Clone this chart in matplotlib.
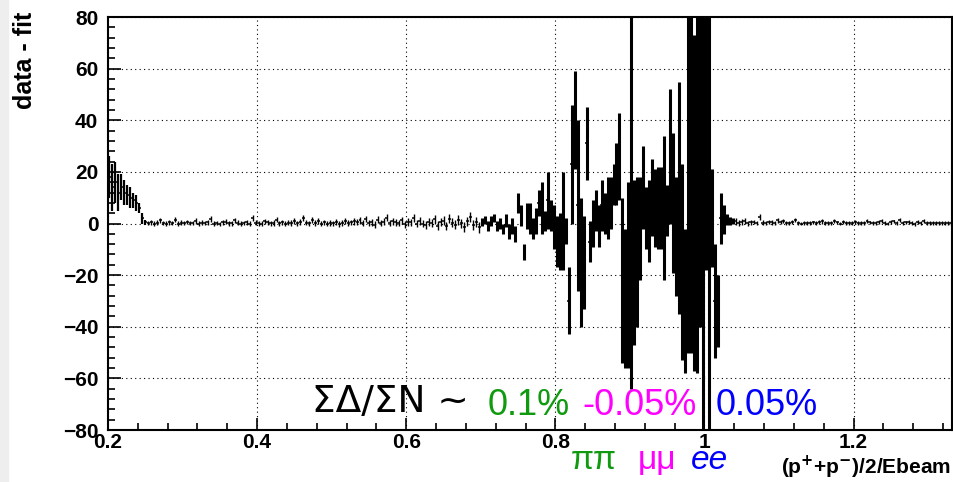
import numpy as np
import matplotlib.pyplot as plt
from matplotlib.ticker import MultipleLocator
from matplotlib.patches import Rectangle

plt.rcParams['font.family'] = ['Liberation Sans', 'DejaVu Sans']

# histogram binning: 0.2 .. 1.332 in 0.004 steps
x_start = 0.2
bin_width = 0.004

# residuals (data - fit) and their errors
low_vals = [18, 14, 16, 12, 14, 12, 11, 10, 9, 8, 6, 2, 0.5]
low_errs = [8, 9, 8, 7, 5, 5, 4, 4, 3, 3, 2, 2, 1]

flat1_vals = [0.2, 0.5, 0.0, 0.3, 1.2, 0.1, 0.0, 0.4, 0.2, 1.5, 0.0, 0.3, 0.1, 0.6, 0.2, 0.1, 1.0, 0.0, 0.3, 0.1,
              0.4, 1.8, 0.0, 0.2, -0.2, 0.4, 0.7, 0.1, 0.1, 1.3, 0.3, 0.0, 0.2, 0.5, 0.0, 2.0, 0.3, 0.1, -0.1, 0.8,
              0.4, 0.1, 0.2, 1.5, 0.1, 0.5, -0.1, 0.3, 0.2, 1.1, 0.1, 0.6, 2.1, 0.3, 0.1, 1.3, 0.2, 0.9, 0.0, 0.4,
              -0.1, 0.2, 0.1, 0.6, -0.2, 0.3, 1.0, 0.1, 0.4, 0.8, 0.5, 1.2, 0.2, 1.7, 0.1, 0.4, -0.4, 1.5, 0.3, 0.7,
              2.3, 0.1, 0.9, 0.4, 0.2, 1.3, -0.3, 0.6, 0.4, 2.0, 0.0, 1.0, -0.1, -0.6, 0.7, 0.3, 1.6, -0.8, 0.5, 1.1,
              -1.0, 1.9, 0.3, -0.5, 1.3, 0.1, -1.2, 0.8, 2.4, -0.7, 0.5, -1.5]
flat1_errs = [0.9, 0.9, 0.8, 0.9, 1.0, 0.8, 0.9, 0.9, 0.8, 1.0, 0.9, 0.9, 0.8, 0.9, 0.9, 0.8, 1.0, 0.9, 0.9, 0.8,
              0.9, 1.1, 0.9, 0.9, 0.9, 0.9, 1.0, 0.9, 0.9, 1.0, 0.9, 0.9, 0.9, 1.0, 0.9, 1.1, 0.9, 0.9, 0.9, 1.0,
              1.0, 0.9, 1.0, 1.1, 0.9, 1.0, 0.9, 1.0, 1.0, 1.1, 1.0, 1.0, 1.2, 1.0, 1.0, 1.1, 1.0, 1.1, 1.0, 1.0,
              1.0, 1.0, 1.0, 1.1, 1.0, 1.1, 1.1, 1.1, 1.1, 1.2, 1.1, 1.2, 1.1, 1.3, 1.1, 1.2, 1.2, 1.3, 1.2, 1.3,
              1.4, 1.2, 1.3, 1.3, 1.3, 1.4, 1.3, 1.4, 1.4, 1.5, 1.4, 1.5, 1.4, 1.5, 1.5, 1.5, 1.6, 1.6, 1.6, 1.7,
              1.7, 1.8, 1.7, 1.8, 1.8, 1.8, 1.9, 1.9, 2.0, 1.9, 2.0, 2.1]

peak_vals = [0.5, 1.5, -1, 1, 2, -1, 0, -2, 1, -3, -1, -4, 8, 3, -11, 3, 2, -2, 1, 8,
             6, 1, 9, 3, -1.5, -7, -7, 1, -3, -30, 23, 40, 7, -15, -15, 31, -7, 0, 5, -1,
             7, 4, 6, 8, 15, 19, 26, -22, -29, -20, 8, -15, -11, -2, 14, 2, 1, 10, 6, 6,
             6, 6, 5, 26, 8, -5, 10, -15, -30, 20, 20, 8, 20, 30, 0, 40, 0, 2, -30, -34,
             2, 1.5, 1.5, 1, 1]
peak_errs = [1.5, 1.5, 2, 2, 1.5, 2, 2, 2, 2.5, 3, 3, 3, 4, 4, 3, 5, 6, 4, 5, 5,
             10, 4, 11, 6, 8.5, 10, 11, 19, 5, 13, 23, 19, 33, 25, 18, 14, 8, 9, 8, 8,
             10, 8, 12, 10, 8, 12, 17, 32, 27, 36, 72, 32, 29, 20, 16, 12, 16, 15, 15, 16,
             16, 28, 10, 26, 27, 23, 45, 38, 28, 70, 70, 65, 78, 70, 100, 58, 100, 19, 22, 14,
             10, 5.5, 2, 1.5, 1.2]

flat2_vals = [0.8, 0.2, 0.5, 1.0, 0.1, 0.4, 0.6, 0.2, 2.5, 0.3, 0.1, 0.7, 0.4, 0.2, 1.2, 0.5, 0.9, 0.1, 0.3, 0.6,
              1.4, 0.2, 0.0, 0.3, 0.1, 0.2, 0.4, 0.1, 0.6, 0.8, 0.3, 0.1, 0.2, 1.0, 0.4, 0.0, 0.5, 0.2, 0.3, 0.1,
              0.6, 0.2, 0.3, 0.1, 0.9, 0.4, 0.2, 0.1, 0.5, 1.1, 0.3, 0.0, 0.6, 0.8, 0.2, 1.5, 0.1, 0.4, 0.7, 0.2,
              -0.2, 0.6, 0.1, 0.9, 0.2, 0.3, 0.1, 0.2, 0.3, 0.2, 0.1, 0.2, 0.1]
flat2_errs = [1.2, 1.1, 1.1, 1.0, 1.0, 1.0, 0.9, 0.9, 1.0, 0.9, 0.8, 0.8, 0.8, 0.8, 0.9, 0.8, 0.8, 0.7, 0.7, 0.8,
              0.8, 0.7, 0.7, 0.7, 0.7, 0.7, 0.7, 0.7, 0.7, 0.8, 0.7, 0.7, 0.7, 0.8, 0.7, 0.7, 0.7, 0.7, 0.7, 0.7,
              0.7, 0.7, 0.7, 0.7, 0.8, 0.7, 0.7, 0.7, 0.7, 0.8, 0.7, 0.7, 0.7, 0.7, 0.7, 0.8, 0.7, 0.7, 0.7, 0.7,
              0.7, 0.7, 0.7, 0.7, 0.7, 0.7, 0.7, 0.7, 0.7, 0.7, 0.7, 0.7, 0.7]

vals = np.array(low_vals + flat1_vals + peak_vals + flat2_vals)
errs = np.array(low_errs + flat1_errs + peak_errs + flat2_errs)
edges = x_start + bin_width * np.arange(len(vals) + 1)
centers = 0.5 * (edges[:-1] + edges[1:])

# thicker error bars where the bins are busy
bar_lw = ([1.6] * len(low_vals) + [1.0] * len(flat1_vals)
          + [2.2] * len(peak_vals) + [1.0] * len(flat2_vals))

x_ticks = [0.2, 0.4, 0.6, 0.8, 1.0, 1.2]
x_ticklabels = ['0.2', '0.4', '0.6', '0.8', '1', '1.2']
y_ticks = [-80, -60, -40, -20, 0, 20, 40, 60, 80]

fig = plt.figure(figsize=(9.54, 4.82), dpi=100)
ax = fig.add_axes([108 / 954, 1 - 430 / 482, 844 / 954, 413 / 482])

ax.hlines(vals, edges[:-1], edges[1:], color='black', lw=1.1)
ax.vlines(centers, vals - errs, vals + errs, color='black', lw=bar_lw)

ax.set_xlim(x_start, edges[-1])
ax.set_ylim(-80, 80)
ax.set_xticks(x_ticks)
ax.set_xticklabels(x_ticklabels)
ax.set_yticks(y_ticks)
ax.xaxis.set_minor_locator(MultipleLocator(0.04))
ax.yaxis.set_minor_locator(MultipleLocator(4))
ax.tick_params(which='both', direction='in', top=False, right=False,
               labelsize=15, width=1.2)
ax.tick_params(which='major', length=9)
ax.tick_params(which='minor', length=5)
ax.tick_params(axis='y', pad=7)
ax.tick_params(axis='x', pad=2)
for lab in ax.get_xticklabels() + ax.get_yticklabels():
    lab.set_fontweight('bold')
ax.grid(True, which='major', color='black', ls=(0, (1, 3)), lw=0.8)
for sp in ax.spines.values():
    sp.set_linewidth(1.5)

fig.text(25 / 954, 1 - 12 / 482, 'data - fit', rotation=90, ha='center', va='top',
         fontsize=18, fontweight='bold')
fig.text(951 / 954, 1 - 481 / 482, '(p$^{\\mathbf{+}}$+p$^{\\mathbf{-}}$)/2/Ebeam',
         ha='right', va='bottom', fontsize=15, fontweight='bold')

# summary of relative differences
fig.text(312 / 954, 1 - 412 / 482, '\u03a3\u0394/\u03a3N ~', fontsize=27, color='black',
         family='DejaVu Sans')
fig.text(488 / 954, 1 - 415 / 482, '0.1%', fontsize=26, color='#0f9a0f')
fig.text(582 / 954, 1 - 415 / 482, '-0.05%', fontsize=26, color='#ff00ff')
fig.text(716 / 954, 1 - 415 / 482, '0.05%', fontsize=26, color='#0000ff')
fig.text(571 / 954, 1 - 469 / 482, '\u03c0\u03c0', fontsize=24, color='#0f9a0f')
fig.text(638 / 954, 1 - 469 / 482, '\u03bc\u03bc', fontsize=24, color='#ff00ff')
fig.text(691 / 954, 1 - 469 / 482, 'ee', fontsize=24, color='#0000ff', style='italic')

fig.patches.append(Rectangle((0, 0), 8 / 954, 1, transform=fig.transFigure,
                             color='#eeeeee', zorder=-1))

fig.savefig('out.png', dpi=100)
